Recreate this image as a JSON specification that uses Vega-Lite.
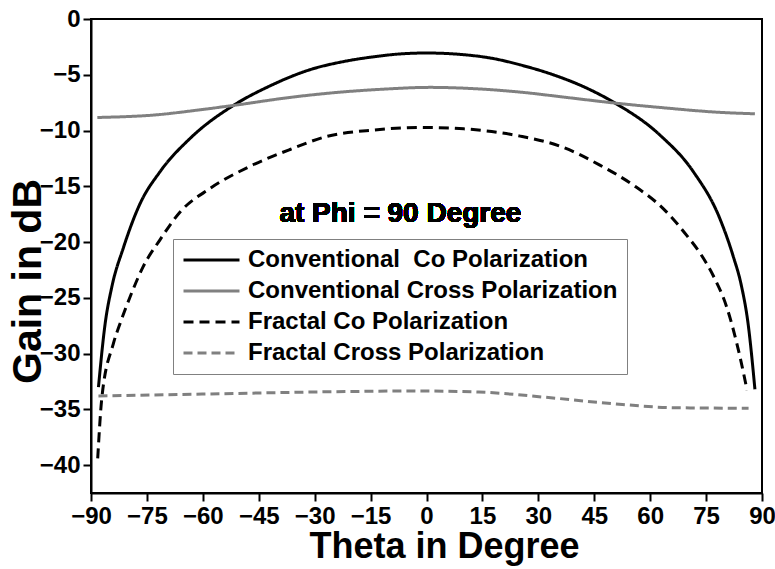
{
  "$schema": "https://vega.github.io/schema/vega-lite/v6.json",
  "width": 671,
  "height": 474,
  "autosize": {"type": "none"},
  "padding": {"left": 91, "top": 19, "right": 13, "bottom": 76},
  "background": "white",
  "config": {
    "view": {"stroke": "black", "strokeWidth": 2},
    "font": "Liberation Sans",
    "axis": {
      "domainColor": "black",
      "domainWidth": 2,
      "tickColor": "black",
      "tickWidth": 2,
      "grid": false,
      "labelFont": "Liberation Sans",
      "labelFontWeight": "bold",
      "labelFontSize": 24,
      "labelColor": "black",
      "titleFont": "Liberation Sans",
      "titleFontWeight": "bold",
      "titleColor": "black"
    },
    "legend": {
      "orient": "none",
      "legendX": 82,
      "legendY": 220,
      "title": null,
      "strokeColor": "#808080",
      "fillColor": "white",
      "padding": 9,
      "symbolType": "stroke",
      "symbolSize": 3136,
      "symbolStrokeWidth": 3,
      "labelFont": "Liberation Sans",
      "labelFontWeight": "bold",
      "labelFontSize": 24,
      "labelColor": "black",
      "labelLimit": 0,
      "labelOffset": 7,
      "clipHeight": 24,
      "rowPadding": 7
    }
  },
  "data": {
    "values": [
      {"series": "Conventional  Co Polarization", "theta": -88.0, "gain": -33.0},
      {"series": "Conventional  Co Polarization", "theta": -86.2, "gain": -27.3},
      {"series": "Conventional  Co Polarization", "theta": -84.4, "gain": -24.0},
      {"series": "Conventional  Co Polarization", "theta": -81.3, "gain": -20.5},
      {"series": "Conventional  Co Polarization", "theta": -76.9, "gain": -16.6},
      {"series": "Conventional  Co Polarization", "theta": -71.5, "gain": -13.7},
      {"series": "Conventional  Co Polarization", "theta": -63.4, "gain": -10.7},
      {"series": "Conventional  Co Polarization", "theta": -51.8, "gain": -7.75},
      {"series": "Conventional  Co Polarization", "theta": -42.0, "gain": -6.0},
      {"series": "Conventional  Co Polarization", "theta": -31.3, "gain": -4.55},
      {"series": "Conventional  Co Polarization", "theta": -22.0, "gain": -3.8},
      {"series": "Conventional  Co Polarization", "theta": -14.0, "gain": -3.38},
      {"series": "Conventional  Co Polarization", "theta": -7.0, "gain": -3.13},
      {"series": "Conventional  Co Polarization", "theta": 0.0, "gain": -3.05},
      {"series": "Conventional  Co Polarization", "theta": 10.0, "gain": -3.2},
      {"series": "Conventional  Co Polarization", "theta": 18.0, "gain": -3.55},
      {"series": "Conventional  Co Polarization", "theta": 25.0, "gain": -4.1},
      {"series": "Conventional  Co Polarization", "theta": 34.0, "gain": -5.0},
      {"series": "Conventional  Co Polarization", "theta": 43.0, "gain": -6.2},
      {"series": "Conventional  Co Polarization", "theta": 50.6, "gain": -7.54},
      {"series": "Conventional  Co Polarization", "theta": 62.6, "gain": -10.4},
      {"series": "Conventional  Co Polarization", "theta": 71.6, "gain": -13.7},
      {"series": "Conventional  Co Polarization", "theta": 78.7, "gain": -17.9},
      {"series": "Conventional  Co Polarization", "theta": 82.3, "gain": -21.3},
      {"series": "Conventional  Co Polarization", "theta": 84.4, "gain": -23.8},
      {"series": "Conventional  Co Polarization", "theta": 86.3, "gain": -27.4},
      {"series": "Conventional  Co Polarization", "theta": 88.1, "gain": -33.2},

      {"series": "Conventional Cross Polarization", "theta": -88.3, "gain": -8.83},
      {"series": "Conventional Cross Polarization", "theta": -72.4, "gain": -8.59},
      {"series": "Conventional Cross Polarization", "theta": -60.8, "gain": -8.14},
      {"series": "Conventional Cross Polarization", "theta": -51.8, "gain": -7.75},
      {"series": "Conventional Cross Polarization", "theta": -36.6, "gain": -7.03},
      {"series": "Conventional Cross Polarization", "theta": -25.9, "gain": -6.64},
      {"series": "Conventional Cross Polarization", "theta": -12.0, "gain": -6.3},
      {"series": "Conventional Cross Polarization", "theta": 1.0, "gain": -6.13},
      {"series": "Conventional Cross Polarization", "theta": 13.0, "gain": -6.25},
      {"series": "Conventional Cross Polarization", "theta": 25.0, "gain": -6.55},
      {"series": "Conventional Cross Polarization", "theta": 38.0, "gain": -7.05},
      {"series": "Conventional Cross Polarization", "theta": 50.6, "gain": -7.54},
      {"series": "Conventional Cross Polarization", "theta": 62.6, "gain": -7.93},
      {"series": "Conventional Cross Polarization", "theta": 78.7, "gain": -8.37},
      {"series": "Conventional Cross Polarization", "theta": 88.1, "gain": -8.5},

      {"series": "Fractal Co Polarization", "theta": -88.2, "gain": -39.4},
      {"series": "Fractal Co Polarization", "theta": -87.1, "gain": -34.0},
      {"series": "Fractal Co Polarization", "theta": -84.0, "gain": -29.1},
      {"series": "Fractal Co Polarization", "theta": -82.2, "gain": -27.3},
      {"series": "Fractal Co Polarization", "theta": -79.5, "gain": -24.9},
      {"series": "Fractal Co Polarization", "theta": -76.0, "gain": -22.2},
      {"series": "Fractal Co Polarization", "theta": -71.5, "gain": -19.8},
      {"series": "Fractal Co Polarization", "theta": -66.1, "gain": -17.3},
      {"series": "Fractal Co Polarization", "theta": -58.1, "gain": -15.2},
      {"series": "Fractal Co Polarization", "theta": -47.3, "gain": -13.2},
      {"series": "Fractal Co Polarization", "theta": -36.6, "gain": -11.7},
      {"series": "Fractal Co Polarization", "theta": -27.0, "gain": -10.55},
      {"series": "Fractal Co Polarization", "theta": -14.0, "gain": -9.95},
      {"series": "Fractal Co Polarization", "theta": -1.7, "gain": -9.72},
      {"series": "Fractal Co Polarization", "theta": 10.0, "gain": -9.85},
      {"series": "Fractal Co Polarization", "theta": 25.1, "gain": -10.5},
      {"series": "Fractal Co Polarization", "theta": 35.8, "gain": -11.4},
      {"series": "Fractal Co Polarization", "theta": 46.5, "gain": -13.1},
      {"series": "Fractal Co Polarization", "theta": 55.5, "gain": -14.9},
      {"series": "Fractal Co Polarization", "theta": 63.5, "gain": -17.0},
      {"series": "Fractal Co Polarization", "theta": 69.8, "gain": -19.4},
      {"series": "Fractal Co Polarization", "theta": 73.6, "gain": -21.1},
      {"series": "Fractal Co Polarization", "theta": 76.9, "gain": -23.0},
      {"series": "Fractal Co Polarization", "theta": 80.5, "gain": -25.8},
      {"series": "Fractal Co Polarization", "theta": 84.1, "gain": -30.3},
      {"series": "Fractal Co Polarization", "theta": 86.0, "gain": -33.3},

      {"series": "Fractal Cross Polarization", "theta": -88.0, "gain": -33.8},
      {"series": "Fractal Cross Polarization", "theta": -55.5, "gain": -33.6},
      {"series": "Fractal Cross Polarization", "theta": -20.8, "gain": -33.4},
      {"series": "Fractal Cross Polarization", "theta": -3.4, "gain": -33.35},
      {"series": "Fractal Cross Polarization", "theta": 14.0, "gain": -33.45},
      {"series": "Fractal Cross Polarization", "theta": 31.4, "gain": -33.9},
      {"series": "Fractal Cross Polarization", "theta": 48.7, "gain": -34.45},
      {"series": "Fractal Cross Polarization", "theta": 66.1, "gain": -34.85},
      {"series": "Fractal Cross Polarization", "theta": 86.4, "gain": -34.9}
    ]
  },
  "layer": [
    {
      "mark": {"type": "line", "strokeWidth": 3, "interpolate": "monotone", "clip": true},
      "encoding": {
        "x": {
          "field": "theta", "type": "quantitative",
          "scale": {"domain": [-90, 90], "nice": false, "zero": false},
          "axis": {
            "title": "Theta in Degree",
            "titleFontSize": 36,
            "titleX": 353,
            "titleY": 64,
            "titleBaseline": "alphabetic",
            "titleAnchor": null,
            "values": [-90, -82.5, -75, -67.5, -60, -52.5, -45, -37.5, -30, -22.5, -15, -7.5, 0, 7.5, 15, 22.5, 30, 37.5, 45, 52.5, 60, 67.5, 75, 82.5, 90],
            "labelExpr": "datum.value % 15 === 0 ? datum.label : ''",
            "tickSize": {"condition": {"test": "datum.value % 15 === 0", "value": 8}, "value": 4},
            "labelPadding": 3,
            "labelFlush": false,
            "labelOverlap": false
          }
        },
        "y": {
          "field": "gain", "type": "quantitative",
          "scale": {"domain": [-42.5, 0], "nice": false, "zero": false},
          "axis": {
            "title": "Gain in dB",
            "titleFontSize": 41,
            "titleX": -63,
            "titleY": 262,
            "titleAngle": -90,
            "titleBaseline": "middle",
            "titleAlign": "center",
            "titleAnchor": null,
            "values": [-40, -37.5, -35, -32.5, -30, -27.5, -25, -22.5, -20, -17.5, -15, -12.5, -10, -7.5, -5, -2.5, 0],
            "labelExpr": "datum.value % 5 === 0 ? datum.label : ''",
            "tickSize": {"condition": {"test": "datum.value % 5 === 0", "value": 8}, "value": 5},
            "labelPadding": 3,
            "labelOverlap": false
          }
        },
        "color": {
          "field": "series", "type": "nominal",
          "scale": {
            "domain": ["Conventional  Co Polarization", "Conventional Cross Polarization", "Fractal Co Polarization", "Fractal Cross Polarization"],
            "range": ["#000000", "#808080", "#000000", "#808080"]
          },
          "legend": {"labelExpr": "replace(datum.label, '  ', '\u00a0 ')"}
        },
        "strokeDash": {
          "field": "series", "type": "nominal",
          "scale": {
            "domain": ["Conventional  Co Polarization", "Conventional Cross Polarization", "Fractal Co Polarization", "Fractal Cross Polarization"],
            "range": [[1, 0], [1, 0], [10, 6], [9, 5]]
          },
          "legend": {"labelExpr": "replace(datum.label, '  ', '\u00a0 ')"}
        }
      }
    },
    {
      "mark": {"type": "text", "font": "Liberation Sans", "fontWeight": "bold", "fontSize": 28, "align": "center", "baseline": "alphabetic", "color": "black"},
      "encoding": {
        "x": {"datum": -7},
        "y": {"datum": -18.2},
        "text": {"value": "at Phi = 90 Degree"}
      }
    }
  ]
}
